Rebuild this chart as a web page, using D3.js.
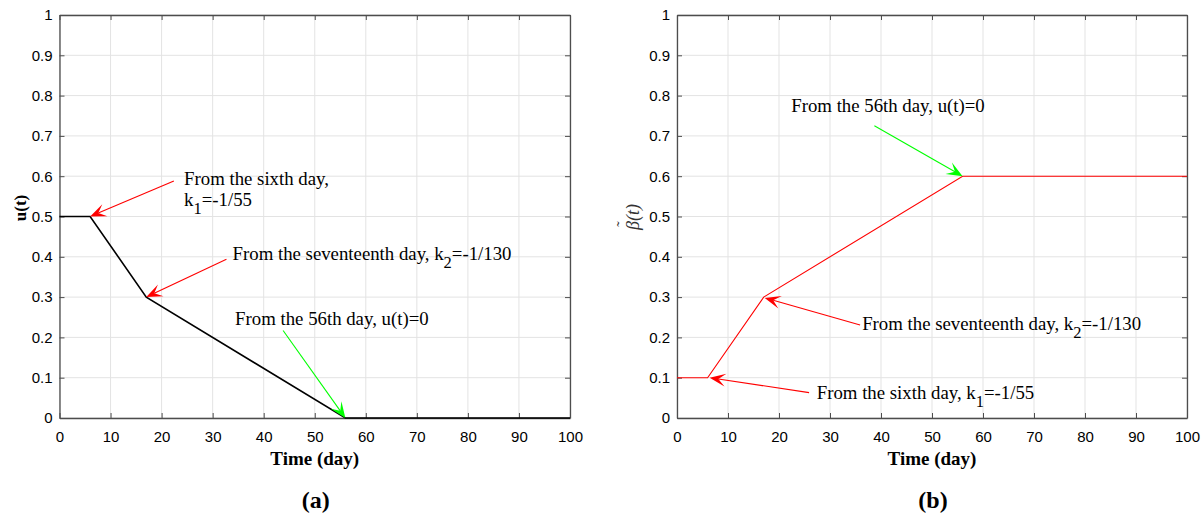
<!DOCTYPE html>
<html>
<head>
<meta charset="utf-8">
<script src="https://cdnjs.cloudflare.com/ajax/libs/d3/7.8.5/d3.min.js"></script>
<style>
body { margin: 0; background: #fff; }
.tick text { font-family: "Liberation Sans", Arial, sans-serif; font-size: 15px; fill: #000; }
.note { font-family: "Liberation Serif", "Times New Roman", serif; font-size: 18.8px; fill: #000; }
.alabel { font-family: "Liberation Serif", "Times New Roman", serif; font-weight: bold; font-size: 19px; }
</style>
</head>
<body>
<div id="chart"></div>
<script>
var svgWidth = 1201;
var svgHeight = 515;

// data
var days = [0, 6, 17, 56, 100];
var uValues = [0.5, 0.5, 0.3, 0, 0];
var betaValues = [0.1, 0.1, 0.3, 0.6, 0.6];
var xTicks = [0, 10, 20, 30, 40, 50, 60, 70, 80, 90, 100];
var yTicks = [0, 0.1, 0.2, 0.3, 0.4, 0.5, 0.6, 0.7, 0.8, 0.9, 1];

// annotations: text position, arrow tail and head in data units
var notesA = [
    { lines: [["From the sixth day,"], ["k", "1", "=-1/55"]], tx: 24.4, ty: 0.578, ax: 22.4, ay: 0.588, hx: 6, hy: 0.5, color: "#ff0000" },
    { lines: [["From the seventeenth day, k", "2", "=-1/130"]], tx: 33.9, ty: 0.392, ax: 32.7, ay: 0.394, hx: 17, hy: 0.3, color: "#ff0000" },
    { lines: [["From the 56th day, u(t)=0"]], tx: 34.4, ty: 0.231, ax: 43.8, ay: 0.217, hx: 56, hy: 0, color: "#00ff00" }
];
var notesB = [
    { lines: [["From the 56th day, u(t)=0"]], tx: 22.4, ty: 0.760, ax: 38.7, ay: 0.725, hx: 56, hy: 0.6, color: "#00ff00" },
    { lines: [["From the seventeenth day, k", "2", "=-1/130"]], tx: 36.3, ty: 0.218, ax: 35.9, ay: 0.231, hx: 17.2, hy: 0.298, color: "#ff0000" },
    { lines: [["From the sixth day, k", "1", "=-1/55"]], tx: 27.4, ty: 0.046, ax: 25.9, ay: 0.063, hx: 6.4, hy: 0.1, color: "#ff0000" }
];

var svg = d3.select("#chart")
    .append("svg")
    .attr("width", svgWidth)
    .attr("height", svgHeight);

var plotTop = 15, plotBottom = 418;

function drawPanel(x0, x1, values, lineColor, lineWidth, notes, panelLabel) {
    var xScale = d3.scaleLinear().domain([0, 100]).range([x0, x1]);
    var yScale = d3.scaleLinear().domain([0, 1]).range([plotBottom, plotTop]);

    var g = svg.append("g");

    // grid
    g.selectAll("line.gx").data(xTicks).enter().append("line")
        .attr("x1", function(d) { return xScale(d); })
        .attr("x2", function(d) { return xScale(d); })
        .attr("y1", plotTop).attr("y2", plotBottom)
        .attr("stroke", "#e3e3e3").attr("stroke-width", 1);
    g.selectAll("line.gy").data(yTicks).enter().append("line")
        .attr("y1", function(d) { return yScale(d); })
        .attr("y2", function(d) { return yScale(d); })
        .attr("x1", x0).attr("x2", x1)
        .attr("stroke", "#e3e3e3").attr("stroke-width", 1);

    // axes (box with inward ticks)
    var fmt = function(d) { return d3.format("~g")(d); };
    var xAxis = d3.axisBottom(xScale).tickValues(xTicks).tickFormat(fmt).tickSizeInner(-5).tickSizeOuter(0).tickPadding(13);
    var yAxis = d3.axisLeft(yScale).tickValues(yTicks).tickFormat(fmt).tickSizeInner(-5).tickSizeOuter(0).tickPadding(7);
    var xAxisTop = d3.axisTop(xScale).tickValues(xTicks).tickFormat("").tickSizeInner(-5).tickSizeOuter(0);
    var yAxisRight = d3.axisRight(yScale).tickValues(yTicks).tickFormat("").tickSizeInner(-5).tickSizeOuter(0);

    [
        g.append("g").attr("transform", "translate(0," + plotBottom + ")").call(xAxis),
        g.append("g").attr("transform", "translate(" + x0 + ",0)").call(yAxis),
        g.append("g").attr("transform", "translate(0," + plotTop + ")").call(xAxisTop),
        g.append("g").attr("transform", "translate(" + x1 + ",0)").call(yAxisRight)
    ].forEach(function(a) {
        a.select(".domain").attr("stroke", "#4d4d4d").attr("stroke-width", 1.3);
        a.selectAll(".tick line").attr("stroke", "#4d4d4d");
    });

    // data line
    var line = d3.line()
        .x(function(d, i) { return xScale(days[i]); })
        .y(function(d) { return yScale(d); });
    g.append("path")
        .datum(values)
        .attr("d", line)
        .attr("fill", "none")
        .attr("stroke", lineColor)
        .attr("stroke-width", lineWidth);

    // annotations
    notes.forEach(function(n) {
        var tx = xScale(n.ax), ty = yScale(n.ay);
        var hx = xScale(n.hx), hy = yScale(n.hy);
        var ang = Math.atan2(hy - ty, hx - tx);
        var L = 16, W = 6.5;
        var c = Math.cos(ang), s = Math.sin(ang);
        var bx = hx - L * c, by = hy - L * s;
        var nx = hx - L * 0.55 * c, ny = hy - L * 0.55 * s;
        g.append("line")
            .attr("x1", tx).attr("y1", ty)
            .attr("x2", nx).attr("y2", ny)
            .attr("stroke", n.color).attr("stroke-width", 1.1);
        g.append("path")
            .attr("d", "M" + hx + "," + hy +
                "L" + (bx - W * s) + "," + (by + W * c) +
                "L" + nx + "," + ny +
                "L" + (bx + W * s) + "," + (by - W * c) + "Z")
            .attr("fill", n.color);

        var t = g.append("text")
            .attr("class", "note")
            .attr("x", xScale(n.tx))
            .attr("y", yScale(n.ty));
        n.lines.forEach(function(parts, li) {
            t.append("tspan")
                .attr("x", xScale(n.tx))
                .attr("dy", li === 0 ? 0 : 20.5)
                .text(parts[0]);
            if (parts.length > 1) {
                t.append("tspan").attr("dy", 8).attr("font-size", "16.5px").text(parts[1]);
                t.append("tspan").attr("dy", -8).text(parts[2]);
            }
        });
    });

    // x label
    g.append("text")
        .attr("class", "alabel")
        .attr("x", (x0 + x1) / 2)
        .attr("y", 465)
        .attr("text-anchor", "middle")
        .text("Time (day)");

    // panel label
    g.append("text")
        .attr("x", (x0 + x1) / 2 + 1)
        .attr("y", 508)
        .attr("text-anchor", "middle")
        .style("font-family", "Liberation Serif, Times New Roman, serif")
        .style("font-weight", "bold")
        .style("font-size", "24px")
        .text(panelLabel);

    return g;
}

var gA = drawPanel(59.5, 570, uValues, "#000000", 1.6, notesA, "(a)");
var gB = drawPanel(677, 1187, betaValues, "#ff0000", 1.1, notesB, "(b)");

gA.append("text")
    .attr("class", "alabel")
    .attr("transform", "translate(25.5,208)rotate(-90)")
    .attr("text-anchor", "middle")
    .style("font-size", "17px")
    .text("u(t)");

// beta-tilde label, tilde placed above the beta glyph
var yLab = gB.append("g").attr("transform", "translate(639,217)rotate(-90)");
var bt = yLab.append("text")
    .attr("text-anchor", "middle")
    .style("font-family", "Liberation Serif, Times New Roman, serif")
    .style("font-style", "italic")
    .style("font-size", "18px")
    .style("fill", "#333")
    .text("\u03B2(t)");
var fullW = bt.node().getComputedTextLength();
var betaW = bt.node().getSubStringLength(0, 1);
yLab.append("text")
    .attr("x", -fullW / 2 + betaW / 2 + 1.5)
    .attr("y", -11)
    .attr("text-anchor", "middle")
    .style("font-family", "Liberation Serif, Times New Roman, serif")
    .style("font-size", "16px")
    .style("fill", "#333")
    .text("\u02DC");
</script>
</body>
</html>
